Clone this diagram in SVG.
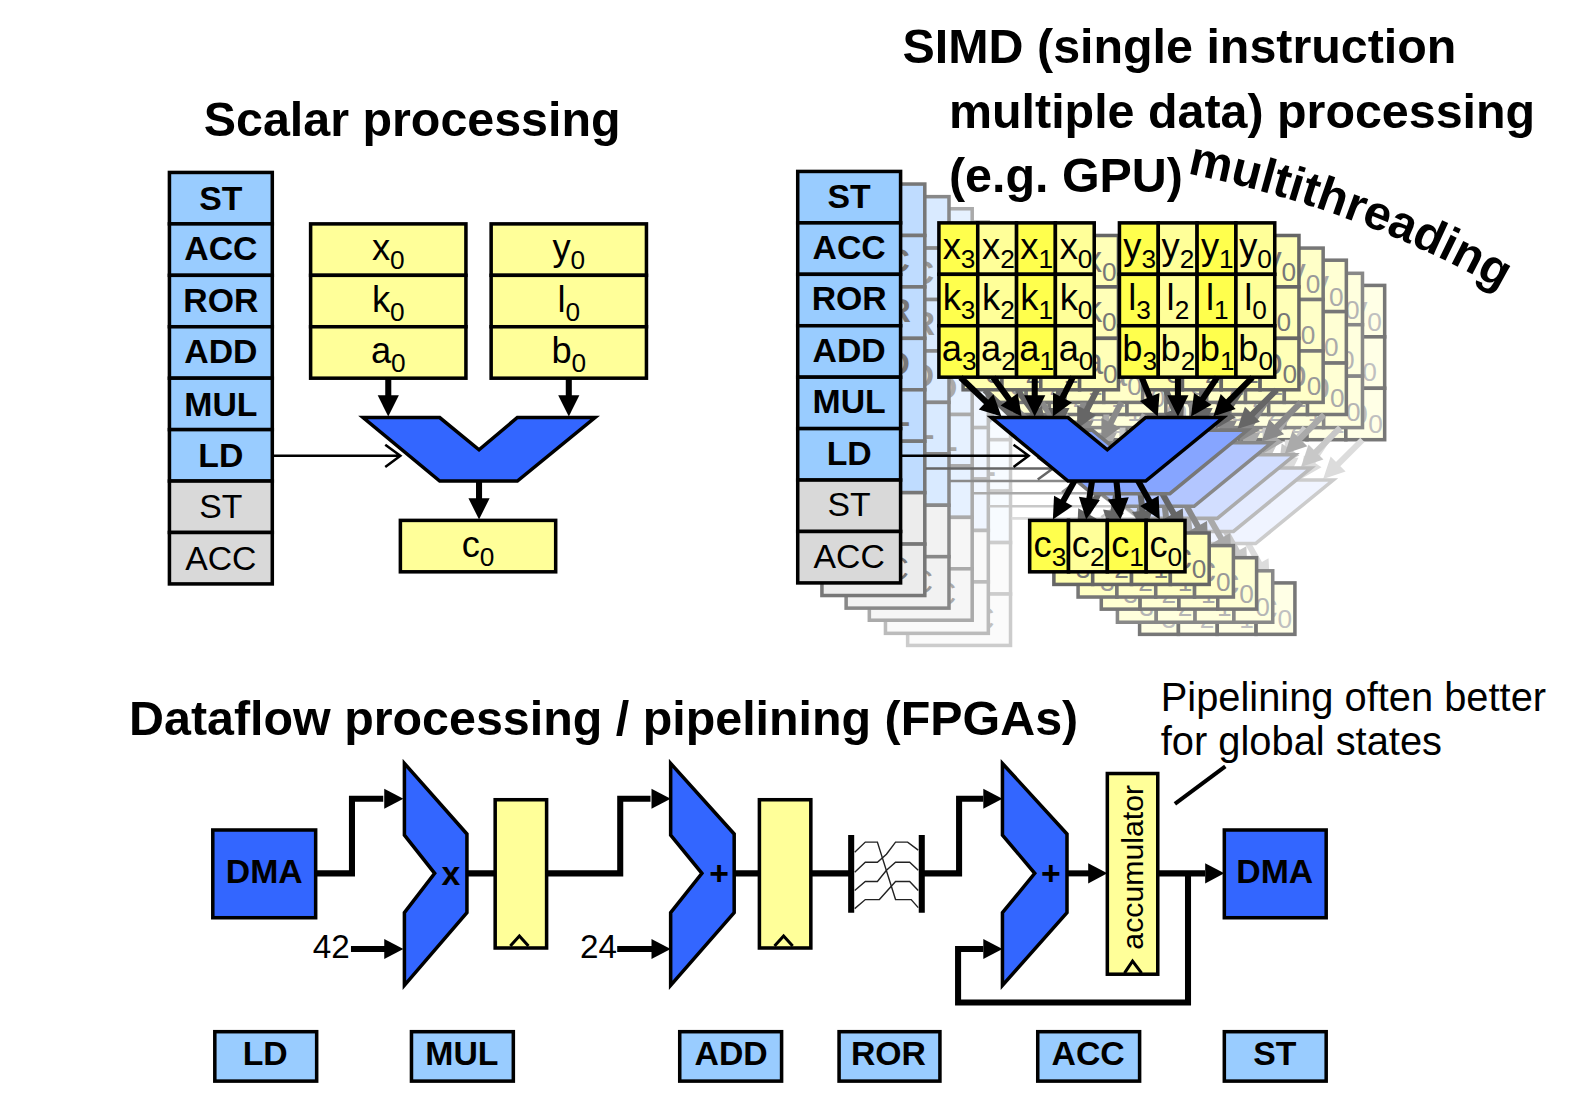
<svg xmlns="http://www.w3.org/2000/svg" xmlns:xlink="http://www.w3.org/1999/xlink" width="1581" height="1106" viewBox="0 0 1581 1106">
<style>
svg{--b:#99ccff;--g:#d9d9d9;--y1:#ffff4d;--y2:#ffff99;--alu:#3366ff;--s:#000;--sy:#000;--t:#000;--a:#000;font-family:"Liberation Sans",Arial,sans-serif}
text{fill:var(--t)}
.title{font-size:48px;font-weight:bold}
.note{font-size:39.5px}
.c{text-anchor:middle}
.op{font-size:33.5px;font-weight:bold;text-anchor:middle}
.opn{font-size:33.5px;text-anchor:middle}
.v{font-size:36px;text-anchor:middle}
.v tspan{font-size:26px}
.b,.gr,.alu,.y{stroke-width:3.5;stroke-linejoin:miter}
.b{fill:var(--b);stroke:var(--s)}
.gr{fill:var(--g);stroke:var(--s)}
.alu{fill:var(--alu);stroke:var(--s)}
.y{fill:var(--y2);stroke:var(--sy)}
.y1{fill:var(--y1);stroke:var(--sy);stroke-width:3.5}
.w{fill:none;stroke:var(--a);stroke-width:6;stroke-linejoin:miter}
.thin{fill:none;stroke:var(--a);stroke-width:2.5}
.fine{fill:none;stroke:#222;stroke-width:1.4}
.h{fill:var(--a)}
.g1{--b:#bfdcff;--g:#ececec;--y1:#ffffb0;--y2:#ffffb8;--alu:#86a5ff;--s:#777;--sy:#666;--t:#777;--a:#666}
.g2{--b:#d9eaff;--g:#f2f2f2;--y1:#ffffc4;--y2:#ffffc8;--alu:#b3c6ff;--s:#888;--sy:#777;--t:#999;--a:#8a8a8a}
.g3{--b:#e6f1ff;--g:#f6f6f6;--y1:#ffffd2;--y2:#ffffd4;--alu:#d2deff;--s:#aaa;--sy:#777;--t:#aaa;--a:#aaa}
.g4{--b:#f0f6ff;--g:#f9f9f9;--y1:#ffffdc;--y2:#ffffde;--alu:#e4ebff;--s:#bbb;--sy:#888;--t:#b5b5b5;--a:#c8c8c8}
.g5{--b:#f7fbff;--g:#fbfbfb;--y1:#ffffe4;--y2:#ffffe6;--alu:#f0f4ff;--s:#ccc;--sy:#777;--t:#c0c0c0;--a:#dcdcdc}
</style>
<defs>
<polygon id="h" class="h" points="0,0 -21,-10.5 -21,10.5"/>
<polygon id="hb" class="h" points="0,0 -19,-10 -19,10"/>
</defs>
<g id="diagram" transform="scale(1.0085)">
<text class="title" x="202" y="135">Scalar processing</text>
<g id="simd-title"><text class="title" x="895" y="62">SIMD (single instruction</text>
<text class="title" x="941" y="127">multiple data) processing</text>
<text class="title" x="941" y="190">(e.g. GPU)</text></g>
<text class="title" x="128" y="729">Dataflow processing / pipelining (FPGAs)</text>
<path id="mt" d="M1177 172 Q1340 205 1482 284" fill="none"/>
<text class="title"><textPath href="#mt" xlink:href="#mt">multithreading</textPath></text>
<text class="note" x="1151" y="705">Pipelining often better</text>
<text class="note" x="1151" y="749">for global states</text>

<!-- scalar -->
<g id="scalar-stack">
<rect class="b" x="168" y="171" width="102" height="51"/><text class="op" x="219" y="208">ST</text>
<rect class="b" x="168" y="222" width="102" height="51"/><text class="op" x="219" y="258">ACC</text>
<rect class="b" x="168" y="273" width="102" height="51"/><text class="op" x="219" y="309">ROR</text>
<rect class="b" x="168" y="324" width="102" height="51"/><text class="op" x="219" y="360">ADD</text>
<rect class="b" x="168" y="375" width="102" height="51"/><text class="op" x="219" y="412">MUL</text>
<rect class="b" x="168" y="426" width="102" height="51"/><text class="op" x="219" y="463">LD</text>
<rect class="gr" x="168" y="477" width="102" height="51"/><text class="opn" x="219" y="514">ST</text>
<rect class="gr" x="168" y="528" width="102" height="51"/><text class="opn" x="219" y="565">ACC</text>
</g>
<g id="scalar-x">
<rect class="y" x="308" y="222" width="154" height="51"/><text class="v" x="385" y="258">x<tspan dy="9">0</tspan></text>
<rect class="y" x="308" y="273" width="154" height="51"/><text class="v" x="385" y="309">k<tspan dy="9">0</tspan></text>
<rect class="y" x="308" y="324" width="154" height="51"/><text class="v" x="385" y="360">a<tspan dy="9">0</tspan></text>
</g>
<g id="scalar-y">
<rect class="y" x="487" y="222" width="154" height="51"/><text class="v" x="564" y="258">y<tspan dy="9">0</tspan></text>
<rect class="y" x="487" y="273" width="154" height="51"/><text class="v" x="564" y="309">l<tspan dy="9">0</tspan></text>
<rect class="y" x="487" y="324" width="154" height="51"/><text class="v" x="564" y="360">b<tspan dy="9">0</tspan></text>
</g>
<g id="scalar-conn">
<path class="thin" d="M271 452H396M382 441L397 452L382 463"/>
<path class="w" d="M385 375V395M564 375V395M475 477V497"/>
<use href="#h" transform="translate(385 413) rotate(90)"/>
<use href="#h" transform="translate(564 413) rotate(90)"/>
<use href="#h" transform="translate(475 515) rotate(90)"/>
</g>
<g id="scalar-alu"><polygon class="alu" points="360,414 436,414 475,446 513,414 590,414 513,477 436,477"/></g>
<g id="scalar-c"><rect class="y" x="397" y="516" width="154" height="51"/><text class="v" x="474" y="552">c<tspan dy="9">0</tspan></text></g>

<!-- ghost threads, rearmost first -->
<use href="#simd" class="g5" transform="translate(109 62)"/>
<use href="#simd" class="g4" transform="translate(87 50)"/>
<use href="#simd" class="g3" transform="translate(71 37)"/>
<use href="#simd" class="g2" transform="translate(48 25)"/>
<use href="#simd" class="g1" transform="translate(24 12.5)"/>

<g id="simd">
<g id="simd-stack">
<rect class="b" x="791" y="170" width="102" height="51"/><text class="op" x="842" y="206">ST</text>
<rect class="b" x="791" y="221" width="102" height="51"/><text class="op" x="842" y="257">ACC</text>
<rect class="b" x="791" y="272" width="102" height="51"/><text class="op" x="842" y="307">ROR</text>
<rect class="b" x="791" y="323" width="102" height="51"/><text class="op" x="842" y="359">ADD</text>
<rect class="b" x="791" y="374" width="102" height="51"/><text class="op" x="842" y="410">MUL</text>
<rect class="b" x="791" y="425" width="102" height="51"/><text class="op" x="842" y="461">LD</text>
<rect class="gr" x="791" y="476" width="102" height="51"/><text class="opn" x="842" y="512">ST</text>
<rect class="gr" x="791" y="527" width="102" height="51"/><text class="opn" x="842" y="563">ACC</text>
</g>
<g id="simd-x">
<rect class="y1" x="931" y="221" width="38.5" height="51"/><rect class="y" x="969.500" y="221" width="38.5" height="51"/><rect class="y1" x="1008" y="221" width="38.5" height="51"/><rect class="y" x="1046.500" y="221" width="38.5" height="51"/>
<rect class="y1" x="931" y="272" width="38.5" height="51"/><rect class="y" x="969.500" y="272" width="38.5" height="51"/><rect class="y1" x="1008" y="272" width="38.5" height="51"/><rect class="y" x="1046.500" y="272" width="38.5" height="51"/>
<rect class="y1" x="931" y="323" width="38.5" height="51"/><rect class="y" x="969.500" y="323" width="38.5" height="51"/><rect class="y1" x="1008" y="323" width="38.5" height="51"/><rect class="y" x="1046.500" y="323" width="38.5" height="51"/>
<text class="v" x="951" y="257">x<tspan dy="9">3</tspan></text><text class="v" x="990" y="257">x<tspan dy="9">2</tspan></text><text class="v" x="1028" y="257">x<tspan dy="9">1</tspan></text><text class="v" x="1067" y="257">x<tspan dy="9">0</tspan></text>
<text class="v" x="951" y="307">k<tspan dy="9">3</tspan></text><text class="v" x="990" y="307">k<tspan dy="9">2</tspan></text><text class="v" x="1028" y="307">k<tspan dy="9">1</tspan></text><text class="v" x="1067" y="307">k<tspan dy="9">0</tspan></text>
<text class="v" x="951" y="358">a<tspan dy="9">3</tspan></text><text class="v" x="990" y="358">a<tspan dy="9">2</tspan></text><text class="v" x="1028" y="358">a<tspan dy="9">1</tspan></text><text class="v" x="1067" y="358">a<tspan dy="9">0</tspan></text>
</g>
<g id="simd-y">
<rect class="y1" x="1110" y="221" width="38.5" height="51"/><rect class="y" x="1148.500" y="221" width="38.5" height="51"/><rect class="y1" x="1187" y="221" width="38.5" height="51"/><rect class="y" x="1225.500" y="221" width="38.5" height="51"/>
<rect class="y1" x="1110" y="272" width="38.5" height="51"/><rect class="y" x="1148.500" y="272" width="38.5" height="51"/><rect class="y1" x="1187" y="272" width="38.5" height="51"/><rect class="y" x="1225.500" y="272" width="38.5" height="51"/>
<rect class="y1" x="1110" y="323" width="38.5" height="51"/><rect class="y" x="1148.500" y="323" width="38.5" height="51"/><rect class="y1" x="1187" y="323" width="38.5" height="51"/><rect class="y" x="1225.500" y="323" width="38.5" height="51"/>
<text class="v" x="1130" y="257">y<tspan dy="9">3</tspan></text><text class="v" x="1168" y="257">y<tspan dy="9">2</tspan></text><text class="v" x="1207" y="257">y<tspan dy="9">1</tspan></text><text class="v" x="1245" y="257">y<tspan dy="9">0</tspan></text>
<text class="v" x="1130" y="307">l<tspan dy="9">3</tspan></text><text class="v" x="1168" y="307">l<tspan dy="9">2</tspan></text><text class="v" x="1207" y="307">l<tspan dy="9">1</tspan></text><text class="v" x="1245" y="307">l<tspan dy="9">0</tspan></text>
<text class="v" x="1130" y="358">b<tspan dy="9">3</tspan></text><text class="v" x="1168" y="358">b<tspan dy="9">2</tspan></text><text class="v" x="1207" y="358">b<tspan dy="9">1</tspan></text><text class="v" x="1245" y="358">b<tspan dy="9">0</tspan></text>
</g>
<g id="simd-conn">
<path class="thin" d="M894 452H1019M1005 441L1020 452L1005 463"/>
<g transform="translate(993 413) rotate(43.6)"><path class="w" d="M-56 0H-15"/><use href="#h"/></g>
<g transform="translate(1013 413) rotate(54)"><path class="w" d="M-48 0H-15"/><use href="#h"/></g>
<g transform="translate(1026 413) rotate(90)"><path class="w" d="M-39 0H-15"/><use href="#h"/></g>
<g transform="translate(1044 413) rotate(117)"><path class="w" d="M-44 0H-15"/><use href="#h"/></g>
<g transform="translate(1148 413) rotate(67.7)"><path class="w" d="M-42 0H-15"/><use href="#h"/></g>
<g transform="translate(1168 413) rotate(90)"><path class="w" d="M-39 0H-15"/><use href="#h"/></g>
<g transform="translate(1181 413) rotate(123.7)"><path class="w" d="M-47 0H-15"/><use href="#h"/></g>
<g transform="translate(1203 413) rotate(135)"><path class="w" d="M-55 0H-15"/><use href="#h"/></g>
<g transform="translate(1044 515) rotate(119.4)"><path class="w" d="M-45 0H-15"/><use href="#h"/></g>
<g transform="translate(1077 515) rotate(98.7)"><path class="w" d="M-40 0H-15"/><use href="#h"/></g>
<g transform="translate(1111 515) rotate(84)"><path class="w" d="M-39 0H-15"/><use href="#h"/></g>
<g transform="translate(1150 515) rotate(60.6)"><path class="w" d="M-45 0H-15"/><use href="#h"/></g>
</g>
<g id="simd-alu"><polygon class="alu" points="983,414 1059,414 1098,446 1136,414 1213,414 1136,477 1059,477"/></g>
<g id="simd-c">
<rect class="y1" x="1021" y="516" width="38.5" height="51"/><rect class="y" x="1059.500" y="516" width="38.5" height="51"/><rect class="y1" x="1098" y="516" width="38.5" height="51"/><rect class="y" x="1136.500" y="516" width="38.5" height="51"/>
<text class="v" x="1041" y="552">c<tspan dy="9">3</tspan></text><text class="v" x="1079" y="552">c<tspan dy="9">2</tspan></text><text class="v" x="1118" y="552">c<tspan dy="9">1</tspan></text><text class="v" x="1156" y="552">c<tspan dy="9">0</tspan></text>
</g>
</g>

<!-- pipeline -->
<g id="connectors">
<path class="w" d="M313 866H349V792H380"/><use href="#hb" transform="translate(400 792)"/>
<path class="w" d="M348 941H382"/><use href="#hb" transform="translate(400 941)"/>
<path class="w" d="M463 866H491M542 866H615V792H645"/><use href="#hb" transform="translate(665 792)"/>
<path class="w" d="M612 941H647"/><use href="#hb" transform="translate(665 941)"/>
<path class="w" d="M728 866H753M803 866H844M914 866H951V792H975"/><use href="#hb" transform="translate(994 792)"/>
<path class="w" d="M1058 866H1080"/><use href="#hb" transform="translate(1098 866)"/>
<path class="w" d="M1148 866H1195"/><use href="#hb" transform="translate(1214 866)"/>
<path class="w" d="M1178 866V994H950V941H975"/><use href="#hb" transform="translate(994 941)"/>
<path d="M1165 797L1215 760" fill="none" stroke="#000" stroke-width="4"/>
</g>
<g id="dma1"><rect class="alu" x="211" y="823" width="102" height="87"/><text class="op" x="262" y="876">DMA</text></g>
<g id="mux1"><polygon class="alu" points="401,757 463,827 463,905 401,977 401,905 431,866 401,828"/><text class="op" x="447" y="878">x</text></g>
<g id="reg1"><rect class="y" x="491" y="793" width="51" height="147"/><path d="M506 938L515 928L524 938" fill="none" stroke="#000" stroke-width="3"/></g>
<text x="310" y="950" font-size="33" fill="#222">42</text>
<g id="mux2"><polygon class="alu" points="665,757 728,827 728,905 665,977 665,905 696,866 665,828"/><text class="op" x="713" y="878">+</text></g>
<text x="575" y="950" font-size="33" fill="#222">24</text>
<g id="reg2"><rect class="y" x="753" y="793" width="51" height="147"/><path d="M768 938L777 928L786 938" fill="none" stroke="#000" stroke-width="3"/></g>
<g id="ror">
<path d="M844 828V905M914 828V905" fill="none" stroke="#000" stroke-width="6"/>
<path class="fine" d="M847.500 845L858 835H870L888 892H903.500L910.500 900"/>
<path class="fine" d="M847.500 865L858 855H870L879 847L888 835H900L910.500 843"/>
<path class="fine" d="M847.500 883L858 874H870L879 863L888 855H902L910.500 863"/>
<path class="fine" d="M847.500 901L858 892H872L888 874H902L910.500 883"/>
</g>
<g id="mux3"><polygon class="alu" points="994,757 1058,827 1058,905 994,977 994,905 1026,866 994,828"/><text class="op" x="1042" y="878">+</text></g>
<g id="accumulator"><rect class="y" x="1098" y="767" width="50" height="199"/><text transform="translate(1133 860) rotate(-90)" font-size="30" class="c">accumulator</text><path d="M1115 965L1123 953L1132 965" fill="none" stroke="#000" stroke-width="3"/></g>
<g id="dma2"><rect class="alu" x="1214" y="823" width="101" height="87"/><text class="op" x="1264" y="876">DMA</text></g>
<g id="lbl-ld"><rect class="b" x="213" y="1023" width="101" height="49"/><text class="op" x="263" y="1056">LD</text></g>
<g id="lbl-mul"><rect class="b" x="408" y="1023" width="101" height="49"/><text class="op" x="458" y="1056">MUL</text></g>
<g id="lbl-add"><rect class="b" x="674" y="1023" width="101" height="49"/><text class="op" x="725" y="1056">ADD</text></g>
<g id="lbl-ror"><rect class="b" x="832" y="1023" width="100" height="49"/><text class="op" x="881" y="1056">ROR</text></g>
<g id="lbl-acc"><rect class="b" x="1029" y="1023" width="101" height="49"/><text class="op" x="1079" y="1056">ACC</text></g>
<g id="lbl-st"><rect class="b" x="1214" y="1023" width="101" height="49"/><text class="op" x="1264" y="1056">ST</text></g>
</g>
</svg>
